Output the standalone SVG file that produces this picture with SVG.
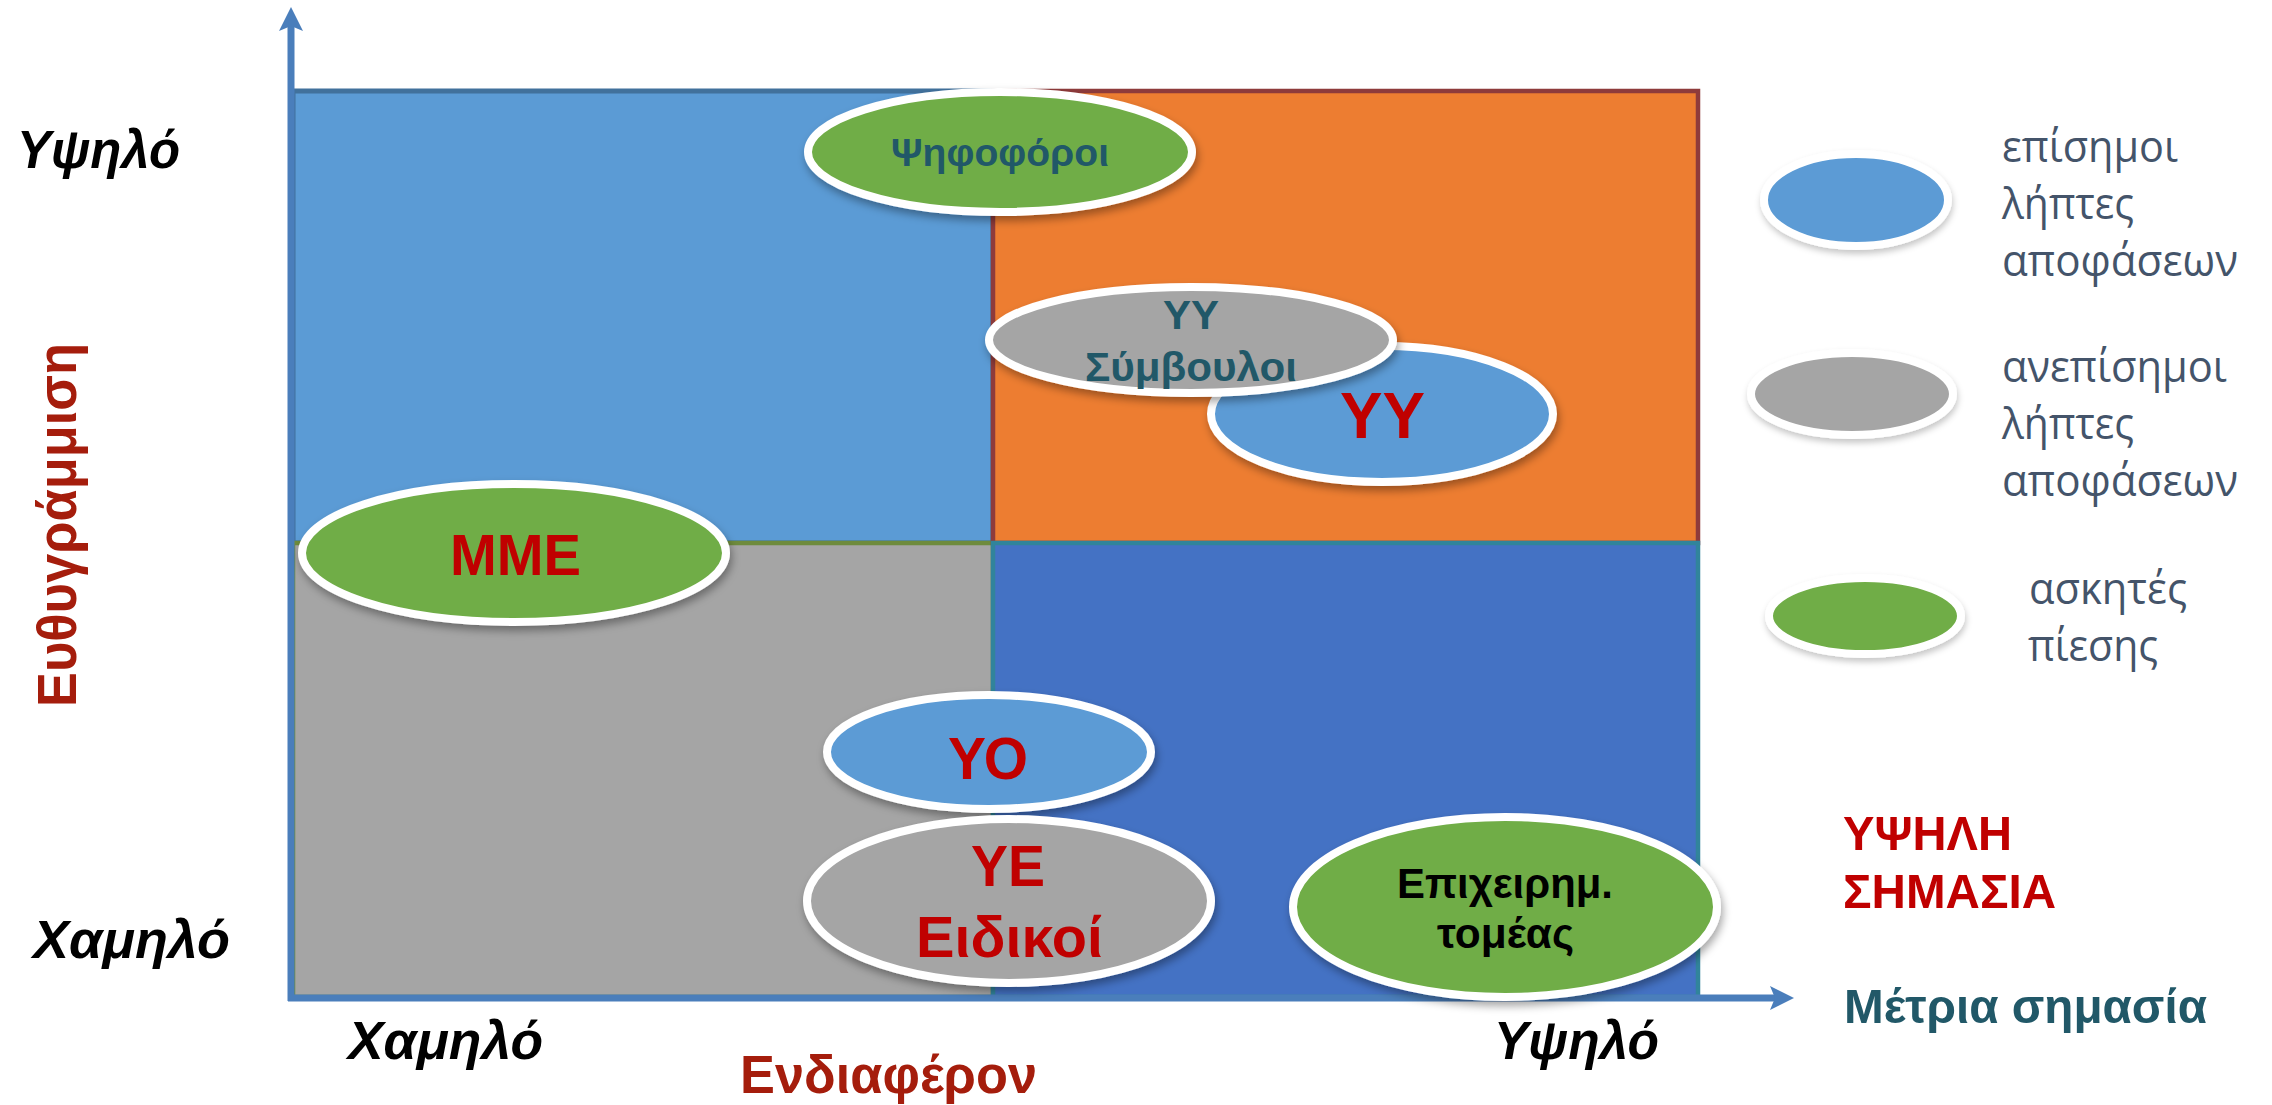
<svg xmlns="http://www.w3.org/2000/svg" width="2272" height="1105" viewBox="0 0 2272 1105">
<style>
.b{font-family:"Liberation Sans",Arial,sans-serif;font-weight:bold}
.bi{font-family:"Liberation Sans",Arial,sans-serif;font-weight:bold;font-style:italic;fill:#000}
.axt{fill:#A51D0C}
.red{fill:#C00000}
.teal{fill:#215868}
.blk{fill:#000}
.lg{font-family:"Open Sans","Noto Sans",sans-serif;font-size:43px;fill:#44546A}
.el{stroke:#fff;stroke-width:8;filter:url(#sh)}
.lel{stroke:#fff;stroke-width:8;filter:url(#sh2)}
.gb{fill:#5B9BD5}.gg{fill:#A5A5A5}.gn{fill:#70AD47}
.ax{stroke:#4A7EBB;stroke-width:7;fill:none;marker-end:url(#arr)}
</style>
<defs>
<filter id="sh" x="-20%" y="-20%" width="140%" height="150%"><feDropShadow dx="2" dy="5" stdDeviation="4" flood-color="#000" flood-opacity="0.35"/></filter>
<filter id="sh2" x="-20%" y="-20%" width="140%" height="150%"><feDropShadow dx="1" dy="4" stdDeviation="3" flood-color="#000" flood-opacity="0.22"/></filter>
<marker id="arr" markerUnits="userSpaceOnUse" markerWidth="26" markerHeight="26" refX="5" refY="12" orient="auto"><path d="M0,0 L24,12 L0,24 L5,12 Z" fill="#4A7EBB"/></marker>
</defs>
<rect width="2272" height="1105" fill="#fff"/>
<g id="quadrants">
<rect id="q-top-left" x="293" y="91" width="700" height="452" fill="#5B9BD5" stroke="#41719C" stroke-width="5"/>
<rect id="q-bottom-left" x="293" y="543" width="700" height="454" fill="#A5A5A5" stroke="#6E8B3D" stroke-width="4.5"/>
<rect id="q-top-right" x="993" y="91" width="705" height="452" fill="#ED7D31" stroke="#8E3B3B" stroke-width="4.5"/>
<rect id="q-bottom-right" x="993" y="543" width="705" height="454" fill="#4472C4" stroke="#31849B" stroke-width="4.5"/>
</g>
<g id="connectors">
<line class="ax" x1="291" y1="1001" x2="291" y2="26"/>
<line class="ax" x1="288" y1="998" x2="1775" y2="998"/>
</g>
<g id="axis-labels">
<text class="bi" x="17" y="168" font-size="53" textLength="163" lengthAdjust="spacingAndGlyphs">Υψηλό</text>
<text class="bi" x="33" y="958" font-size="53" textLength="197" lengthAdjust="spacingAndGlyphs">Χαμηλό</text>
<text class="bi" x="348" y="1059" font-size="53" textLength="195" lengthAdjust="spacingAndGlyphs">Χαμηλό</text>
<text class="bi" x="1494" y="1059" font-size="53" textLength="165" lengthAdjust="spacingAndGlyphs">Υψηλό</text>
<text class="b axt" x="740" y="1093" font-size="53" textLength="297" lengthAdjust="spacingAndGlyphs">Ενδιαφέρον</text>
<text class="b axt" transform="translate(76,707) rotate(-90)" font-size="56" textLength="364" lengthAdjust="spacingAndGlyphs">Ευθυγράμμιση</text>
</g>
<g id="node-psifoforoi">
<ellipse class="el gn" cx="1000" cy="152" rx="192" ry="60"/>
<text class="b teal" x="891" y="166" font-size="38" textLength="218" lengthAdjust="spacingAndGlyphs">Ψηφοφόροι</text>
</g>
<g id="node-yy">
<ellipse class="el gb" cx="1382" cy="414" rx="171" ry="68"/>
<text class="b red" x="1340" y="438" font-size="64" textLength="85" lengthAdjust="spacingAndGlyphs">ΥΥ</text>
</g>
<g id="node-yy-symvouloi">
<ellipse class="el gg" cx="1191" cy="340" rx="202" ry="53"/>
<text class="b teal" x="1163" y="329" font-size="41" textLength="56" lengthAdjust="spacingAndGlyphs">ΥΥ</text>
<text class="b teal" x="1085" y="381" font-size="41" textLength="212" lengthAdjust="spacingAndGlyphs">Σύμβουλοι</text>
</g>
<g id="node-mme">
<ellipse class="el gn" cx="514" cy="553" rx="212" ry="69"/>
<text class="b red" x="450" y="575" font-size="57" textLength="131" lengthAdjust="spacingAndGlyphs">ΜΜΕ</text>
</g>
<g id="node-yo">
<ellipse class="el gb" cx="989" cy="752" rx="162" ry="57"/>
<text class="b red" x="948" y="779" font-size="60" textLength="80" lengthAdjust="spacingAndGlyphs">ΥΟ</text>
</g>
<g id="node-ye">
<ellipse class="el gg" cx="1009" cy="901" rx="202" ry="82"/>
<text class="b red" x="971" y="886" font-size="58" textLength="74" lengthAdjust="spacingAndGlyphs">ΥΕ</text>
<text class="b red" x="916" y="957" font-size="57" textLength="187" lengthAdjust="spacingAndGlyphs">Ειδικοί</text>
</g>
<g id="node-epixeirimatikos">
<ellipse class="el gn" cx="1505" cy="907" rx="212" ry="90"/>
<text class="b blk" x="1397" y="898" font-size="42" textLength="216" lengthAdjust="spacingAndGlyphs">Επιχειρημ.</text>
<text class="b blk" x="1437" y="948" font-size="42" textLength="137" lengthAdjust="spacingAndGlyphs">τομέας</text>
</g>
<g id="legend-formal">
<ellipse class="lel gb" cx="1856" cy="200" rx="92" ry="46"/>
<text class="lg" x="2002" y="162" textLength="176" lengthAdjust="spacingAndGlyphs">επίσημοι</text>
<text class="lg" x="2002" y="219" textLength="132" lengthAdjust="spacingAndGlyphs">λήπτες</text>
<text class="lg" x="2002" y="276" textLength="236" lengthAdjust="spacingAndGlyphs">αποφάσεων</text>
</g>
<g id="legend-informal">
<ellipse class="lel gg" cx="1852" cy="394" rx="101" ry="41"/>
<text class="lg" x="2002" y="382" textLength="225" lengthAdjust="spacingAndGlyphs">ανεπίσημοι</text>
<text class="lg" x="2002" y="439" textLength="132" lengthAdjust="spacingAndGlyphs">λήπτες</text>
<text class="lg" x="2002" y="496" textLength="236" lengthAdjust="spacingAndGlyphs">αποφάσεων</text>
</g>
<g id="legend-pressure">
<ellipse class="lel gn" cx="1865" cy="616" rx="96" ry="38"/>
<text class="lg" x="2029" y="604" textLength="158" lengthAdjust="spacingAndGlyphs">ασκητές</text>
<text class="lg" x="2028" y="661" textLength="130" lengthAdjust="spacingAndGlyphs">πίεσης</text>
</g>
<g id="importance-labels">
<text class="b red" x="1843" y="850" font-size="49" textLength="169" lengthAdjust="spacingAndGlyphs">ΥΨΗΛΗ</text>
<text class="b red" x="1843" y="908" font-size="49" textLength="213" lengthAdjust="spacingAndGlyphs">ΣΗΜΑΣΙΑ</text>
<text class="b teal" x="1844" y="1023" font-size="49" textLength="363" lengthAdjust="spacingAndGlyphs">Μέτρια σημασία</text>
</g>
</svg>
